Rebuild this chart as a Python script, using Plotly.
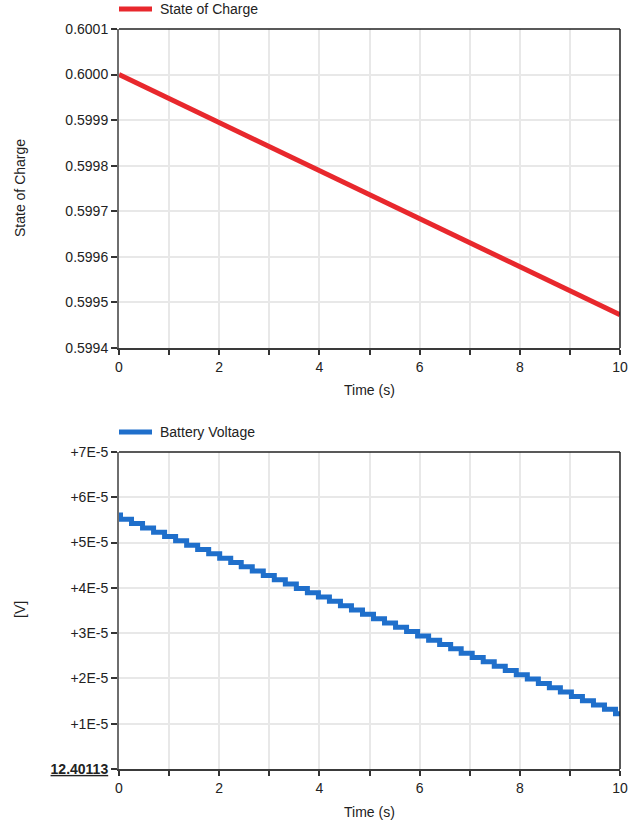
import plotly.graph_objects as go

# ---- data -------------------------------------------------------------
soc_time = [0, 2, 4, 6, 8, 10]
soc_values = [0.600000, 0.599895, 0.599790, 0.599684, 0.599579, 0.599473]

# battery voltage is shown as an offset above a base value
voltage_base_label = "12.40113"
voltage_step_times = [
    0.03, 0.25, 0.47, 0.69, 0.91, 1.13, 1.35, 1.57, 1.79, 2.01,
    2.23, 2.44, 2.66, 2.88, 3.10, 3.32, 3.54, 3.76, 3.98, 4.20,
    4.42, 4.64, 4.86, 5.08, 5.30, 5.52, 5.74, 5.96, 6.18, 6.40,
    6.62, 6.83, 7.05, 7.27, 7.49, 7.71, 7.93, 8.15, 8.37, 8.59,
    8.81, 9.03, 9.25, 9.47, 9.69, 9.91,
]
# offsets (V) held before the first step and after each step
voltage_offsets = [
    5.610e-5, 5.515e-5, 5.419e-5, 5.324e-5, 5.228e-5, 5.133e-5, 5.038e-5,
    4.942e-5, 4.847e-5, 4.751e-5, 4.656e-5, 4.561e-5, 4.465e-5, 4.370e-5,
    4.274e-5, 4.179e-5, 4.084e-5, 3.988e-5, 3.893e-5, 3.797e-5, 3.702e-5,
    3.607e-5, 3.511e-5, 3.416e-5, 3.320e-5, 3.225e-5, 3.130e-5, 3.034e-5,
    2.939e-5, 2.843e-5, 2.748e-5, 2.653e-5, 2.557e-5, 2.462e-5, 2.366e-5,
    2.271e-5, 2.176e-5, 2.080e-5, 1.985e-5, 1.889e-5, 1.794e-5, 1.699e-5,
    1.603e-5, 1.508e-5, 1.412e-5, 1.317e-5, 1.222e-5,
]
t_end = 10

soc_ticks = [0.5994, 0.5995, 0.5996, 0.5997, 0.5998, 0.5999, 0.6000, 0.6001]
voltage_tick_vals = [0, 1e-5, 2e-5, 3e-5, 4e-5, 5e-5, 6e-5, 7e-5]
voltage_tick_text = ["<b><u>" + voltage_base_label + "</u></b>", "+1E-5", "+2E-5",
                     "+3E-5", "+4E-5", "+5E-5", "+6E-5", "+7E-5"]

# ---- styling ----------------------------------------------------------
W, H = 636, 822
FONT = "Arial, 'Liberation Sans', sans-serif"
FS = 14
RED = "#E8282D"
BLUE = "#1F6FCB"
GRID = "#e8e8e8"
TXT = "#222"

def px_x(p):
    return p / W

def px_y(p):
    return 1 - p / H

x_dom = [px_x(119), px_x(620)]
top_dom = [px_y(348), px_y(29)]
bot_dom = [px_y(769), px_y(452)]

fig = go.Figure()

fig.add_trace(go.Scatter(
    x=soc_time, y=soc_values, mode="lines", name="State of Charge",
    line=dict(color=RED, width=5), xaxis="x", yaxis="y",
))

vx = [0] + voltage_step_times + [t_end]
vy = voltage_offsets + [voltage_offsets[-1]]
fig.add_trace(go.Scatter(
    x=vx, y=vy, mode="lines", name="Battery Voltage",
    line=dict(color=BLUE, width=5, shape="hv"), xaxis="x2", yaxis="y2",
))

def xaxis_style(domain, anchor):
    return dict(
        domain=domain, anchor=anchor, range=[0, 10], dtick=2, tick0=0,
        showgrid=True, gridcolor=GRID, gridwidth=2,
        ticks="outside", ticklen=5, tickwidth=1.5, tickcolor="#333",
        minor=dict(dtick=1, tick0=0, ticks="outside", ticklen=5, tickwidth=1.5,
                   tickcolor="#333", showgrid=True, gridcolor=GRID, gridwidth=2),
        showline=True, linecolor="#3a3a3a", linewidth=2,
        zeroline=False, automargin=False,
        tickfont=dict(family=FONT, size=FS, color=TXT),
    )

def yaxis_style(domain, anchor, rng, tickvals, ticktext):
    return dict(
        domain=domain, anchor=anchor, range=rng, tickmode="array",
        tickvals=tickvals, ticktext=ticktext,
        showgrid=True, gridcolor=GRID, gridwidth=2,
        ticks="outside", ticklen=6, tickwidth=1.5, tickcolor="#333",
        showline=True, linecolor="#6e6e6e", linewidth=2,
        zeroline=False, automargin=False,
        tickfont=dict(family=FONT, size=FS, color=TXT),
    )

fig.update_layout(
    width=W, height=H,
    margin=dict(l=0, r=0, t=0, b=0, autoexpand=False),
    paper_bgcolor="white", plot_bgcolor="white",
    font=dict(family=FONT, size=FS, color=TXT),
    xaxis=xaxis_style(x_dom, "y"),
    yaxis=yaxis_style(top_dom, "x", [0.5994, 0.6001], soc_ticks,
                      ["%.4f" % v for v in soc_ticks]),
    xaxis2=xaxis_style(x_dom, "y2"),
    yaxis2=yaxis_style(bot_dom, "x2", [0, 7e-5], voltage_tick_vals,
                       voltage_tick_text),
    showlegend=False,
)

# top and right frame edges
for xr, yr in (("x", "y"), ("x2", "y2")):
    fig.add_shape(type="line", xref=f"{xr} domain", yref=f"{yr} domain",
                  x0=0, x1=1, y0=1, y1=1, line=dict(color="#222", width=1.5))
    fig.add_shape(type="line", xref=f"{xr} domain", yref=f"{yr} domain",
                  x0=1, x1=1, y0=0, y1=1, line=dict(color="#222", width=1.5))

# legend entries above each panel (swatch + series name)
legend_rows = [("State of Charge", RED, 9), ("Battery Voltage", BLUE, 432)]
for name, color, ypx in legend_rows:
    fig.add_shape(type="line", xref="paper", yref="paper",
                  x0=px_x(119), x1=px_x(152), y0=px_y(ypx), y1=px_y(ypx),
                  line=dict(color=color, width=5))
    fig.add_annotation(text=name, x=px_x(158), y=px_y(ypx), xref="paper",
                       yref="paper", xanchor="left", yanchor="middle",
                       showarrow=False, font=dict(family=FONT, size=FS, color=TXT))

# axis titles
titles = [
    dict(text="Time (s)", x=px_x(369), y=px_y(390), textangle=0),
    dict(text="Time (s)", x=px_x(369), y=px_y(812), textangle=0),
    dict(text="State of Charge", x=px_x(20), y=px_y(188), textangle=-90),
    dict(text="[V]", x=px_x(20), y=px_y(610), textangle=-90),
]
for t in titles:
    fig.add_annotation(
        text=t["text"], x=t["x"], y=t["y"], xref="paper", yref="paper",
        xanchor="center", yanchor="middle", textangle=t["textangle"],
        showarrow=False, font=dict(family=FONT, size=FS, color=TXT),
    )

fig.write_html("out.html")
